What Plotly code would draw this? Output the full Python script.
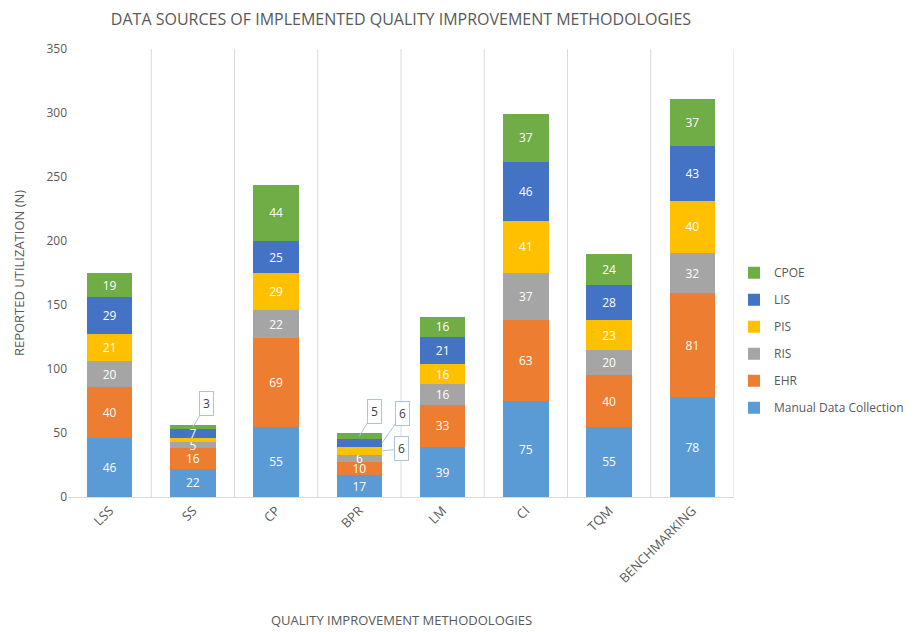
import plotly.graph_objects as go

categories = ["LSS", "SS", "CP", "BPR", "LM", "CI", "TQM", "BENCHMARKING"]
manual = [46, 22, 55, 17, 39, 75, 55, 78]
ehr = [40, 16, 69, 10, 33, 63, 40, 81]
ris = [20, 5, 22, 6, 16, 37, 20, 32]
pis = [21, 3, 29, 6, 16, 41, 23, 40]
lis = [29, 7, 25, 6, 21, 46, 28, 43]
cpoe = [19, 3, 44, 5, 16, 37, 24, 37]

series = [
    ("Manual Data Collection", manual, "#5B9BD5"),
    ("EHR", ehr, "#ED7D31"),
    ("RIS", ris, "#A5A5A5"),
    ("PIS", pis, "#FFC000"),
    ("LIS", lis, "#4472C4"),
    ("CPOE", cpoe, "#70AD47"),
]

# labels drawn as callouts (or hidden) instead of inside the bar
hidden = {("PIS", "SS"), ("CPOE", "SS"), ("PIS", "BPR"), ("LIS", "BPR"), ("CPOE", "BPR")}
# callouts: (series, category, x-offset in category units, ax, ay)
callouts = [
    ("CPOE", "SS", 0.0, 14, -24),
    ("CPOE", "BPR", 0.0, 15, -25),
    ("LIS", "BPR", 0.27, 21, -30),
    ("PIS", "BPR", 0.27, 20, -2),
]

FONT = "Open Sans"
GREY = "#595959"

fig = go.Figure()
n = len(series)
for k, (name, vals, color) in enumerate(series):
    texts = ["" if (name, c) in hidden else str(v) for c, v in zip(categories, vals)]
    fig.add_trace(go.Bar(
        name=name, x=categories, y=vals, marker=dict(color=color, line=dict(width=0)),
        text=texts, textposition="inside", insidetextanchor="middle", textangle=0,
        textfont=dict(color="white", size=12, family=FONT),
        legendgroup=name, legendrank=n - k, hoverinfo="x+y+name",
    ))

# cumulative sums for callout anchor positions
cum = {}
running = [0] * len(categories)
for name, vals, color in series:
    cum[name] = [r + v / 2 for r, v in zip(running, vals)]
    running = [r + v for r, v in zip(running, vals)]
vals_by_name = {nm: v for nm, v, c in series}

annotations = []
for name, cat, dx, ax, ay in callouts:
    i = categories.index(cat)
    annotations.append(dict(
        x=i + dx, y=cum[name][i], xref="x", yref="y",
        text=str(vals_by_name[name][i]), showarrow=True, arrowhead=0, arrowwidth=1,
        arrowcolor="#A9C4DC", ax=ax, ay=ay, bgcolor="white", bordercolor="#A9C4DC",
        borderwidth=1, borderpad=3, font=dict(size=12, color="#404040", family=FONT),
    ))

annotations.append(dict(
    text="QUALITY IMPROVEMENT METHODOLOGIES", xref="paper", yref="paper",
    x=0.5, y=-0.275, yanchor="middle", showarrow=False,
    font=dict(size=13, color=GREY, family=FONT),
))

shapes = [dict(type="line", xref="x", yref="paper", x0=i + 0.5, x1=i + 0.5, y0=0, y1=1,
               line=dict(color="#D9D9D9", width=1), layer="below")
          for i in range(len(categories))]

fig.update_layout(
    barmode="stack", bargap=0.455,
    width=913, height=624,
    margin=dict(l=60, r=169, t=41, b=135),
    paper_bgcolor="white", plot_bgcolor="white",
    title=dict(text="DATA SOURCES OF IMPLEMENTED QUALITY IMPROVEMENT METHODOLOGIES",
               x=0.5, xanchor="center", xref="paper", y=0.981, yanchor="middle",
               font=dict(size=16, color=GREY, family=FONT)),
    font=dict(family=FONT, color=GREY),
    legend=dict(traceorder="grouped", tracegroupgap=8,
                x=1.0, xanchor="left", y=0.35, yanchor="middle",
                font=dict(size=12, color=GREY, family=FONT), bgcolor="rgba(0,0,0,0)"),
    xaxis=dict(showgrid=False, showline=True, linecolor="#D9D9D9", tickangle=-45,
               tickfont=dict(size=13, color=GREY, family=FONT), ticks="",
               range=[-0.5, len(categories) - 0.5]),
    yaxis=dict(range=[0, 350], dtick=50, showgrid=False, zeroline=False,
               tickfont=dict(size=12, color=GREY, family=FONT),
               title=dict(text="REPORTED UTILIZATION (N)", standoff=18,
                          font=dict(size=13, color=GREY, family=FONT))),
    annotations=annotations, shapes=shapes,
    uniformtext=dict(minsize=12, mode="show"),
)

fig.write_html("out.html")
